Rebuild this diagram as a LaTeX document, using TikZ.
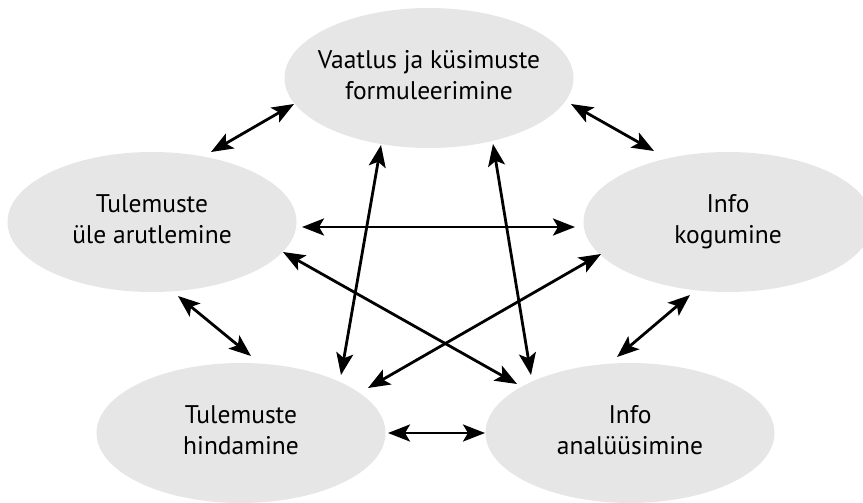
\documentclass[tikz,border=0pt]{standalone}
\usepackage{fontspec}
\setmainfont{PT Sans}
\usetikzlibrary{arrows.meta,shapes.geometric}
\definecolor{ellgray}{RGB}{230,230,230}
\begin{document}
\begin{tikzpicture}[x=1pt,y=-1pt,
  blob/.style={ellipse, fill=ellgray, draw=none, inner sep=0pt,
    minimum width=289pt, minimum height=140pt,
    font=\fontsize{25.5}{31}\selectfont},
  arr/.style={{Stealth[length=22pt,width=17pt,inset=5pt]}-{Stealth[length=22pt,width=17pt,inset=5pt]},
    line width=2.8pt, black}]
\useasboundingbox (0,0) rectangle (863,503);
\node[blob] (T)  at (429,78)  {\makebox[0pt]{\begin{tabular}{c}Vaatlus ja küsimuste\\ formuleerimine\end{tabular}}};
\node[blob] (L)  at (152,222) {\makebox[0pt]{\begin{tabular}{c}Tulemuste\\ üle arutlemine\end{tabular}}};
\node[blob] (R)  at (728,222) {\makebox[0pt]{\begin{tabular}{c}Info\\ kogumine\end{tabular}}};
\node[blob] (BL) at (241,433) {\makebox[0pt]{\begin{tabular}{c}Tulemuste\\ hindamine\end{tabular}}};
\node[blob] (BR) at (630,433) {\makebox[0pt]{\begin{tabular}{c}Info\\ analüüsimine\end{tabular}}};
% connectors
\draw[arr] ([shift={(-135,26)}]T.center) -- ([shift={(59,-70)}]L.center);
\draw[arr] ([shift={(142,26)}]T.center) -- ([shift={(-74,-71)}]R.center);
\draw[arr] ([shift={(150,5)}]L.center) -- ([shift={(-153,5)}]R.center);
\draw[arr] ([shift={(-48,67)}]T.center) -- ([shift={(100,-58)}]BL.center);
\draw[arr] ([shift={(64,66)}]T.center) -- ([shift={(-99,-58)}]BR.center);
\draw[arr] ([shift={(131,30)}]L.center) -- ([shift={(-113,-49)}]BR.center);
\draw[arr] ([shift={(-127,32)}]R.center) -- ([shift={(127,-45)}]BL.center);
\draw[arr] ([shift={(26,74)}]L.center) -- ([shift={(10,-77)}]BL.center);
\draw[arr] ([shift={(-38,73)}]R.center) -- ([shift={(-13,-76)}]BR.center);
\draw[arr] ([shift={(147,0)}]BL.center) -- ([shift={(-145,0)}]BR.center);
\end{tikzpicture}
\end{document}
